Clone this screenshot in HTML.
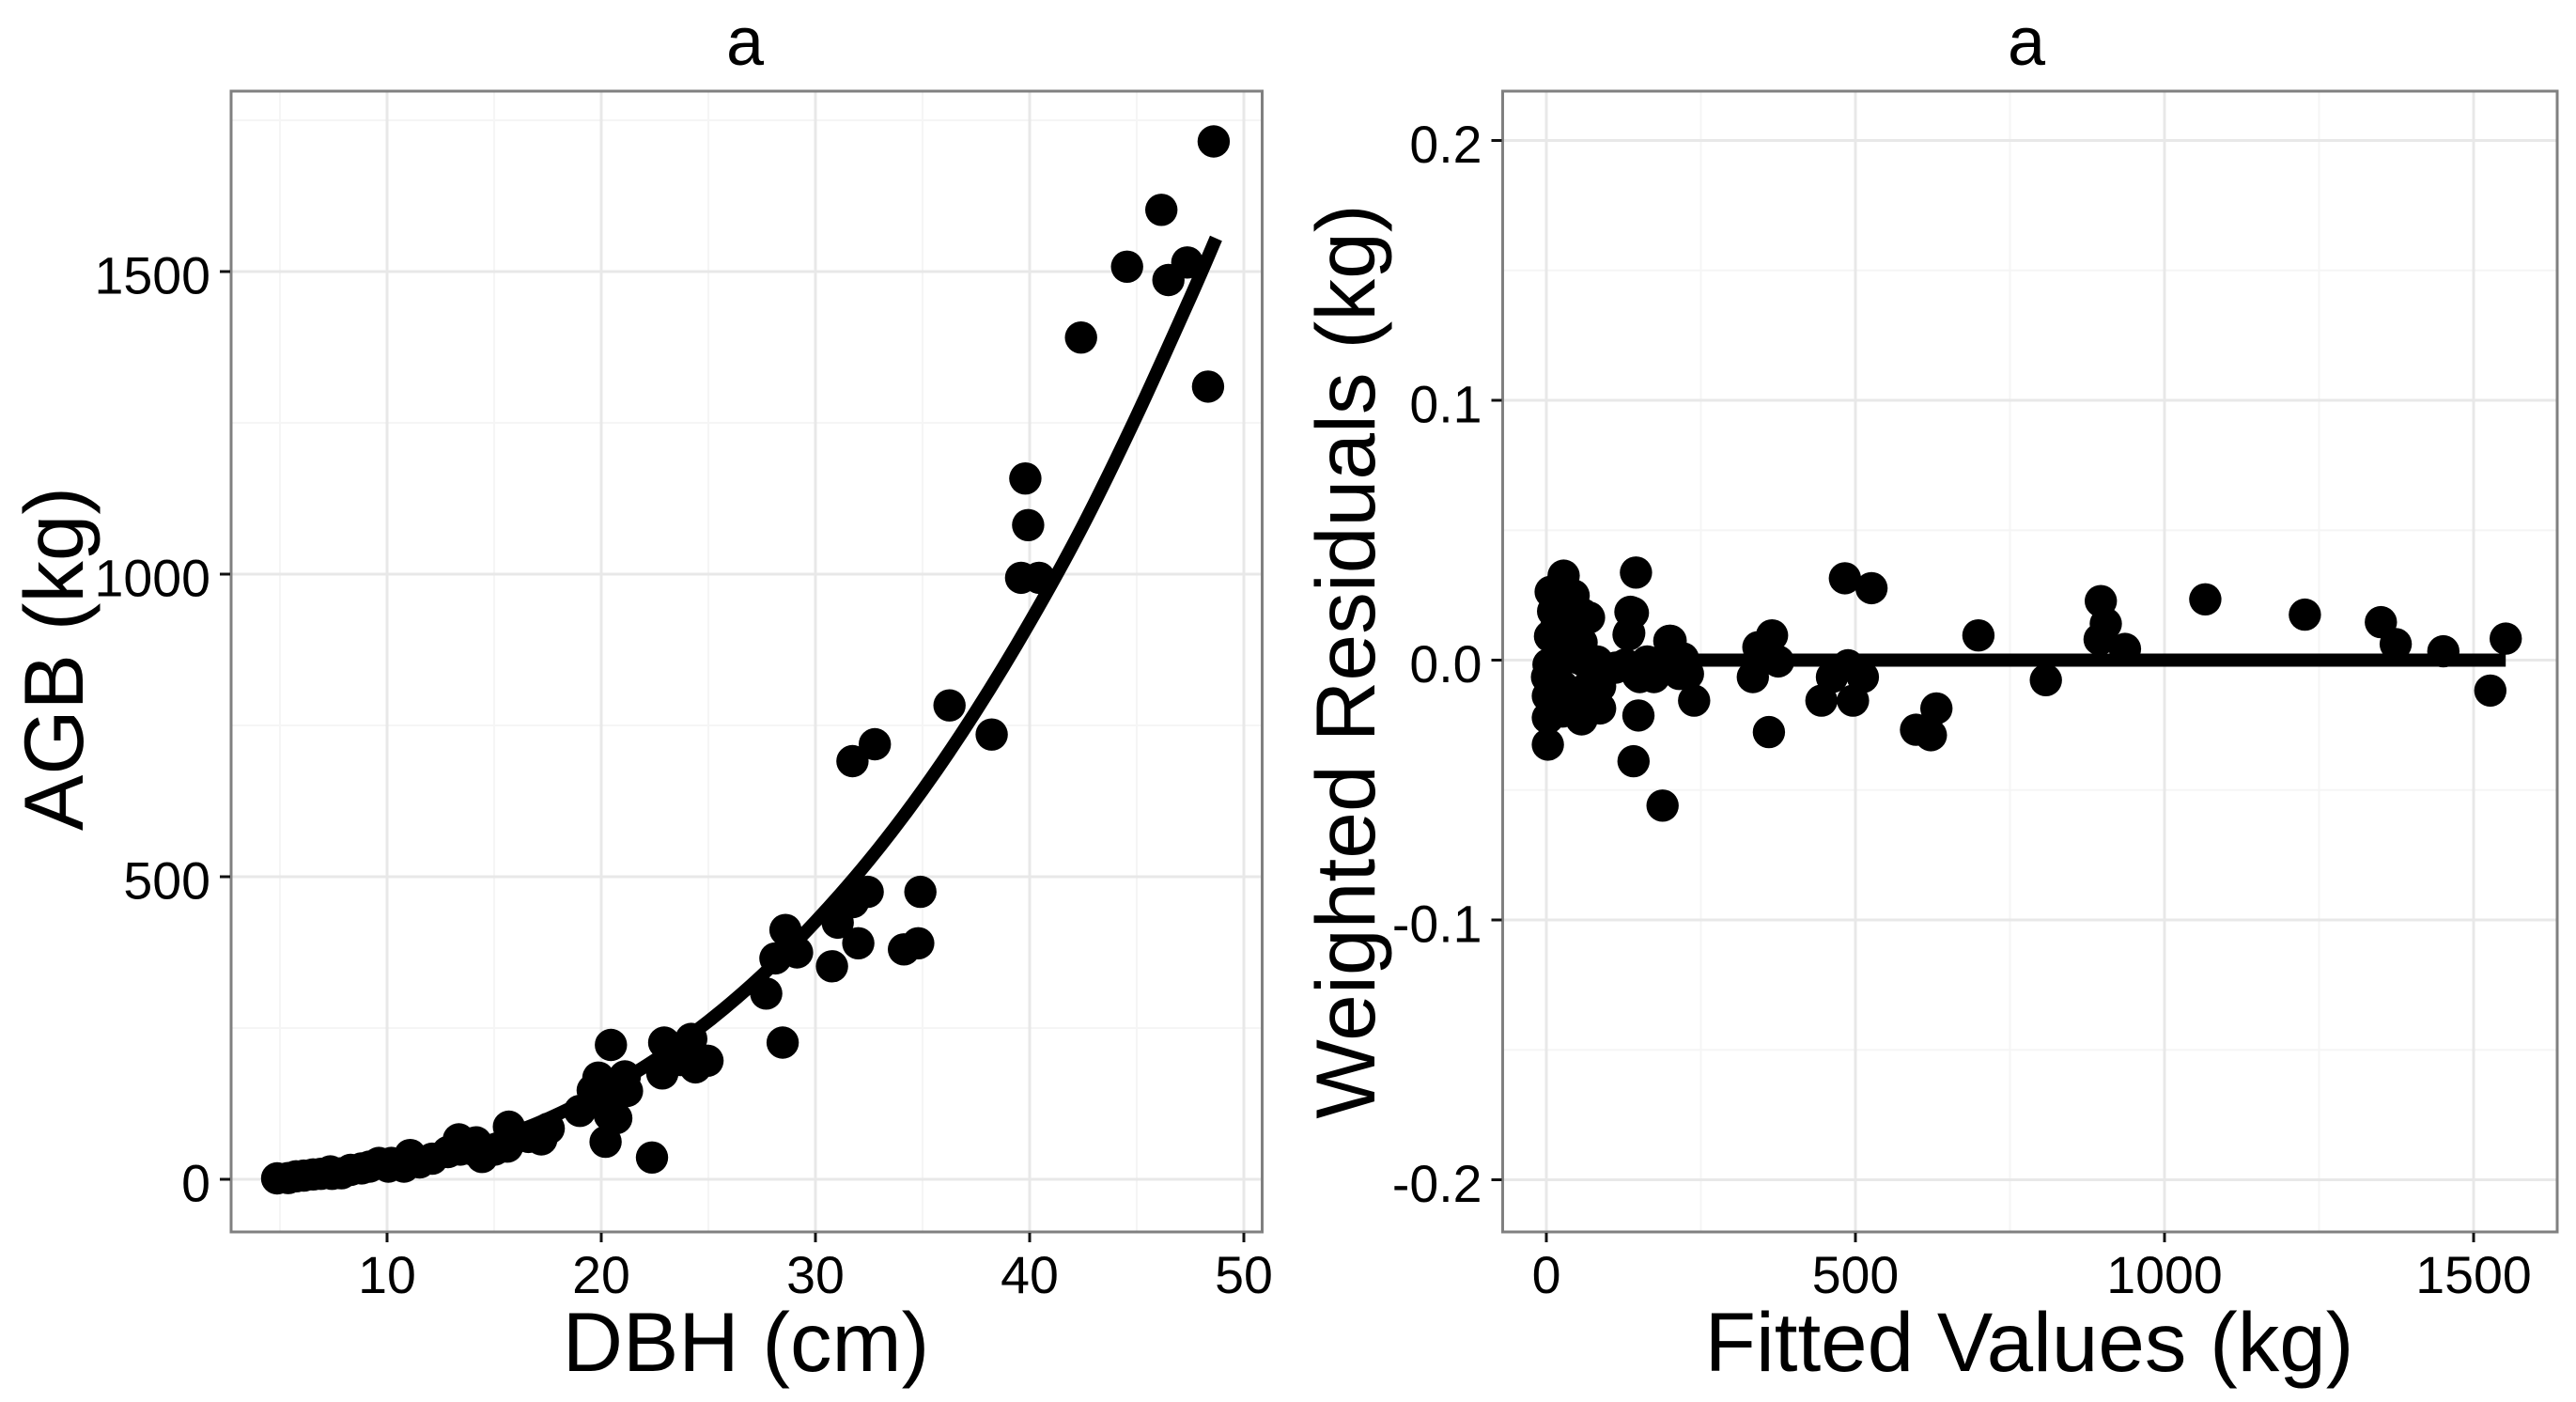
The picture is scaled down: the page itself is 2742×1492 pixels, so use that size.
<!DOCTYPE html>
<html lang="en">
<head>
<meta charset="utf-8">
<title>AGB model fit and residuals</title>
<style>
html,body{margin:0;padding:0;background:#fff}
svg{display:block}
text{font-family:"Liberation Sans",Arial,sans-serif;fill:#000}
</style>
</head>
<body>
<svg id="figure" xmlns="http://www.w3.org/2000/svg" width="2742" height="1492" viewBox="0 0 2742 1492">
  <g id="left-panel"></g>
  <g id="right-panel"></g>
  <text x="793" y="69" font-size="72" text-anchor="middle">a</text>
  <text x="2157" y="69" font-size="72" text-anchor="middle">a</text>
  <text x="794" y="1459" font-size="89" text-anchor="middle">DBH (cm)</text>
  <text x="2160" y="1459" font-size="89" text-anchor="middle">Fitted Values (kg)</text>
  <text transform="translate(88 701) rotate(-90)" font-size="89" text-anchor="middle">AGB (kg)</text>
  <text transform="translate(1463 704) rotate(-90)" font-size="89.5" text-anchor="middle">Weighted Residuals (kg)</text>
</svg>
<script>
// Left panel data
const dbhValues = [4.87,5.38,5.75,6.11,6.55,6.91,7.35,7.43,7.87,8.3,8.82,9.18,9.62,10.06,10.2,10.79,11.08,11.52,12.1,12.84,13.35,13.42,14.15,14.44,14.0,15.69,15.61,15.03,16.6,17.2,17.55,19.0,20.45,19.87,21.1,20.9,20.2,20.4,20.6,19.6,20.0,20.7,21.2,22.37,22.94,24.2,24.96,24.4,22.85,23.7,27.7,28.47,28.6,28.13,29.14,30.77,32.0,31.04,31.75,32.44,34.9,34.13,34.8,31.73,32.77,36.26,38.23,39.6,40.44,39.93,39.8,42.4,44.55,46.48,47.36,46.15,48.33,48.59];
const agbValues = [1.5,2,5,6,8,9,13,9,10,15.5,18,21,27,21,27,21,40,28,34,45,66,49,61,37,49,87,54,49,70,66,84,113,222,168,170,147,62,106,137,147,130,101,146,36,226,232,196,185,175,197,307,226,412,365,375,352,390,424,458,475,475,380,390,691,719,783,735,994,994,1081,1158,1391,1508,1486,1515,1602,1310,1715];
const fitDbh = [5,7.5,10,12.5,15,17.5,20,22.5,25,27.5,30,32.5,35,37.5,40,42.5,45,47.5,48.7];
const fitAgb = [3.5,10,22,41,66,100,144,197,261,337,426,527,643,774,920,1081,1262,1457,1555];
const leftXTicks = [10,20,30,40,50];
const leftXMinor = [5,15,25,35,45];
const leftYTicks = [0,500,1000,1500];
const leftYMinor = [250,750,1250,1750];

// Right panel data
const fittedValues = [145,28,7,44,11,69,6,36,47,52,3.5,1,26,62,2.5,26,82,2.5,2.5,57,87,31,11,140,133,201,112,148,149,239,224,221,173,183,136,134,199,141,188,215,174,151,360,365,343,334,375,483,526,699,808,631,598,622,445,496,512,462,488,897,905,895,936,1066,1227,1350,1374,1451,1552,1527,36,62,87,26,21,52,82,97,16,36,59,42,128,163,193,229,57];
const residualValues = [0.0337,0.0325,0.0263,0.0249,0.0188,0.0164,0.0092,0.0104,0.0152,0.0068,-0.0017,-0.0065,0,-0.0005,-0.0138,-0.0101,-0.0077,-0.0222,-0.0325,-0.0228,-0.0186,-0.0174,-0.0174,0.0182,0.0098,0.0074,-0.0029,-0.0059,-0.0213,-0.0156,-0.0017,0.0007,-0.0056,-0.0017,0.0186,0.0104,0.0074,-0.0389,-0.056,-0.0053,-0.0065,-0.0065,-0.0277,0.0095,0.005,-0.0065,-0.0005,0.0315,0.0277,0.0095,-0.0077,-0.0186,-0.0268,-0.0289,-0.0156,-0.0156,-0.0065,-0.0065,-0.002,0.0227,0.014,0.008,0.0043,0.0234,0.0175,0.0146,0.0062,0.0034,0.0083,-0.0117,-0.0138,-0.0114,-0.0101,-0.0198,0.0043,0.0007,-0.0005,-0.0041,0.0128,0.0225,0.0176,0.0116,-0.0017,-0.0005,-0.0029,-0.0053,0.0068];
const zeroLineFit = [0,1552];
const zeroLineResidual = [0,0];
const rightXTicks = [0,500,1000,1500];
const rightXMinor = [250,750,1250];
const rightYTicks = [-0.2,-0.1,0,0.1,0.2];
const rightYMinor = [-0.15,-0.05,0.05,0.15];
const rightYLabels = ['-0.2','-0.1','0.0','0.1','0.2'];

// Axis functions
function xLeft(v){return 412+(v-10)*22.8;}
function yLeft(v){return 1255-v*0.644;}
function xRight(v){return 1646+v*0.658;}
function yRight(v){return 702.5-v*2765;}

const NS='http://www.w3.org/2000/svg';
const PANEL_TOP=97, PANEL_BOTTOM=1311;

function shape(parent,tag,attrs){
  const el=document.createElementNS(NS,tag);
  for(const k in attrs){el.setAttribute(k,attrs[k]);}
  parent.appendChild(el);
  return el;
}

// Smooth path through the plotted line values (Catmull-Rom to Bezier)
function smoothPath(xs,ys){
  const p=xs.map(function(v,i){return [v,ys[i]];});
  let d='M'+p[0][0].toFixed(1)+' '+p[0][1].toFixed(1);
  for(let i=0;i<p.length-1;i++){
    const a=p[Math.max(i-1,0)],b=p[i],c=p[i+1],e=p[Math.min(i+2,p.length-1)];
    const c1x=b[0]+(c[0]-a[0])/6,c1y=b[1]+(c[1]-a[1])/6;
    const c2x=c[0]-(e[0]-b[0])/6,c2y=c[1]-(e[1]-b[1])/6;
    d+=' C'+c1x.toFixed(1)+' '+c1y.toFixed(1)+' '+c2x.toFixed(1)+' '+c2y.toFixed(1)+' '+c[0].toFixed(1)+' '+c[1].toFixed(1);
  }
  return d;
}

function drawPanel(root,opt){
  const left=opt.left,right=opt.right;
  opt.xMinor.forEach(function(v){
    const el=shape(root,'line',{x1:opt.x(v),x2:opt.x(v),y1:PANEL_TOP,y2:PANEL_BOTTOM,stroke:'#f5f5f5','stroke-width':2});
    
    
  });
  opt.yMinor.forEach(function(v){
    const el=shape(root,'line',{x1:left,x2:right,y1:opt.y(v),y2:opt.y(v),stroke:'#f5f5f5','stroke-width':2});
    
    
  });
  opt.xTicks.forEach(function(v){
    const el=shape(root,'line',{x1:opt.x(v),x2:opt.x(v),y1:PANEL_TOP,y2:PANEL_BOTTOM,stroke:'#e8e8e8','stroke-width':3});
    
    
  });
  opt.yTicks.forEach(function(v){
    const el=shape(root,'line',{x1:left,x2:right,y1:opt.y(v),y2:opt.y(v),stroke:'#e8e8e8','stroke-width':3});
    
    
  });

  const curve=shape(root,'path',{d:smoothPath(opt.lineX.map(opt.x),opt.lineY.map(opt.y)),fill:'none',stroke:'#000','stroke-width':14,'stroke-linejoin':'round'});
  
  

  opt.px.forEach(function(v,i){
    const dot=shape(root,'circle',{cx:opt.x(v).toFixed(1),cy:opt.y(opt.py[i]).toFixed(1),r:17.2,fill:'#000'});
    
    
  });

  const border=shape(root,'rect',{x:left,y:PANEL_TOP,width:right-left,height:PANEL_BOTTOM-PANEL_TOP,fill:'none',stroke:'#808080','stroke-width':3});
  
  

  opt.xTicks.forEach(function(v){
    const tick=shape(root,'line',{x1:opt.x(v),x2:opt.x(v),y1:PANEL_BOTTOM+1,y2:PANEL_BOTTOM+11,stroke:'#111','stroke-width':3});
    
    
    const lab=shape(root,'text',{x:opt.x(v),y:1376,'font-size':55.5,'text-anchor':'middle'});
    lab.textContent=String(v);
    
    
  });
  opt.yTicks.forEach(function(v,i){
    const tick=shape(root,'line',{x1:left-12,x2:left-1,y1:opt.y(v),y2:opt.y(v),stroke:'#111','stroke-width':3});
    
    
    const lab=shape(root,'text',{x:left-22,y:opt.y(v)+23.5,'font-size':55.5,'text-anchor':'end'});
    lab.textContent=opt.yLabels[i];
    
    
  });
}

drawPanel(document.getElementById('left-panel'),{
  left:246,right:1343.5,x:xLeft,y:yLeft,
  xTicks:leftXTicks,xMinor:leftXMinor,yTicks:leftYTicks,yMinor:leftYMinor,
  yLabels:leftYTicks.map(String),
  lineX:fitDbh,lineY:fitAgb,lineName:'fitted-curve',
  px:dbhValues,py:agbValues
});
drawPanel(document.getElementById('right-panel'),{
  left:1599.5,right:2722,x:xRight,y:yRight,
  xTicks:rightXTicks,xMinor:rightXMinor,yTicks:rightYTicks,yMinor:rightYMinor,
  yLabels:rightYLabels,
  lineX:zeroLineFit,lineY:zeroLineResidual,lineName:'zero-residual-line',
  px:fittedValues,py:residualValues
});
</script>
</body>
</html>
